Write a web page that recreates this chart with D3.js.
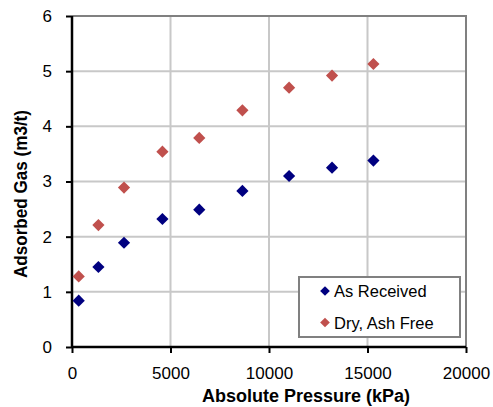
<!DOCTYPE html>
<html>
<head>
<meta charset="utf-8">
<script src="https://cdn.jsdelivr.net/npm/d3@7"></script>
<style>
  html, body { margin: 0; padding: 0; background: #fff; }
  svg { display: block; font-family: "Liberation Sans", Arial, sans-serif; }
</style>
</head>
<body>
<svg id="chart" width="493" height="407"></svg>
<script>
// series values
const pressure = [340, 1340, 2640, 4590, 6460, 8650, 11020, 13200, 15300];
const asReceived = [0.84, 1.45, 1.89, 2.32, 2.49, 2.83, 3.10, 3.25, 3.38];
const dryAshFree = [1.28, 2.21, 2.89, 3.54, 3.79, 4.29, 4.70, 4.92, 5.13];
const seriesNames = ["As Received", "Dry, Ash Free"];
const seriesColors = ["#000080", "#c0504d"];
const xTicks = [0, 5000, 10000, 15000, 20000];
const yTicks = [0, 1, 2, 3, 4, 5, 6];

const svg = d3.select("#chart");
const plotL = 72, plotR = 466, plotT = 16, plotB = 347;

const x = d3.scaleLinear().domain([0, 20000]).range([plotL, plotR]);
const y = d3.scaleLinear().domain([0, 6]).range([plotB, plotT]);

// gridlines
svg.append("g")
  .selectAll("line")
  .data(xTicks.slice(1))
  .enter().append("line")
  .attr("x1", d => x(d)).attr("x2", d => x(d))
  .attr("y1", plotT).attr("y2", plotB)
  .attr("stroke", "#c8c8c8").attr("stroke-width", 2);

svg.append("g")
  .selectAll("line")
  .data(yTicks.slice(1))
  .enter().append("line")
  .attr("x1", plotL).attr("x2", plotR)
  .attr("y1", d => y(d)).attr("y2", d => y(d))
  .attr("stroke", "#c8c8c8").attr("stroke-width", 2);

// top and right border
svg.append("path")
  .attr("d", `M${plotL},${plotT}H${plotR}V${plotB}`)
  .attr("fill", "none").attr("stroke", "#808080").attr("stroke-width", 2);

// axes
const xAxis = svg.append("g")
  .attr("transform", `translate(0,${plotB})`)
  .call(d3.axisBottom(x).tickValues(xTicks).tickSize(6).tickPadding(14).tickFormat(d3.format("d")));
const yAxis = svg.append("g")
  .attr("transform", `translate(${plotL},0)`)
  .call(d3.axisLeft(y).tickValues(yTicks).tickSize(6).tickPadding(14).tickFormat(d3.format("d")));

[xAxis, yAxis].forEach(a => {
  a.select(".domain").attr("stroke", "#000").attr("stroke-width", 2.5);
  a.selectAll(".tick line").attr("stroke", "#000").attr("stroke-width", 2);
  a.selectAll(".tick text").attr("font-size", 17).attr("fill", "#000")
    .attr("font-family", "Liberation Sans, Arial, sans-serif");
});
xAxis.select(".domain").attr("d", `M${plotL},0H${plotR}`);
yAxis.select(".domain").attr("d", `M0,${plotB}V${plotT}`);

// axis titles
svg.append("text")
  .attr("x", 306).attr("y", 402)
  .attr("text-anchor", "middle")
  .attr("font-size", 18).attr("font-weight", "bold")
  .text("Absolute Pressure (kPa)");

svg.append("text")
  .attr("transform", "translate(27,194) rotate(-90)")
  .attr("x", -84)
  .attr("font-size", 18).attr("font-weight", "bold")
  .attr("textLength", 168).attr("lengthAdjust", "spacingAndGlyphs")
  .text("Adsorbed Gas (m3/t)");

// markers
const diamond = d3.symbol().type(d3.symbolDiamond2);
const series = [asReceived, dryAshFree];
series.forEach((vals, i) => {
  svg.append("g")
    .selectAll("path")
    .data(vals.map((v, j) => [pressure[j], v]))
    .enter().append("path")
    .attr("d", diamond.size(95)())
    .attr("transform", d => `translate(${x(d[0])},${y(d[1])})`)
    .attr("fill", seriesColors[i]);
});

// legend
const legend = svg.append("g").attr("transform", "translate(299,277)");
legend.append("rect")
  .attr("width", 161).attr("height", 60)
  .attr("fill", "#fff").attr("stroke", "#808080").attr("stroke-width", 2);
seriesNames.forEach((name, i) => {
  const ly = 14 + i * 31.5;
  legend.append("path")
    .attr("d", diamond.size(60)())
    .attr("transform", `translate(26,${ly})`)
    .attr("fill", seriesColors[i]);
  legend.append("text")
    .attr("x", 35).attr("y", ly + 6)
    .attr("font-size", 16.5)
    .text(name);
});
</script>
</body>
</html>
